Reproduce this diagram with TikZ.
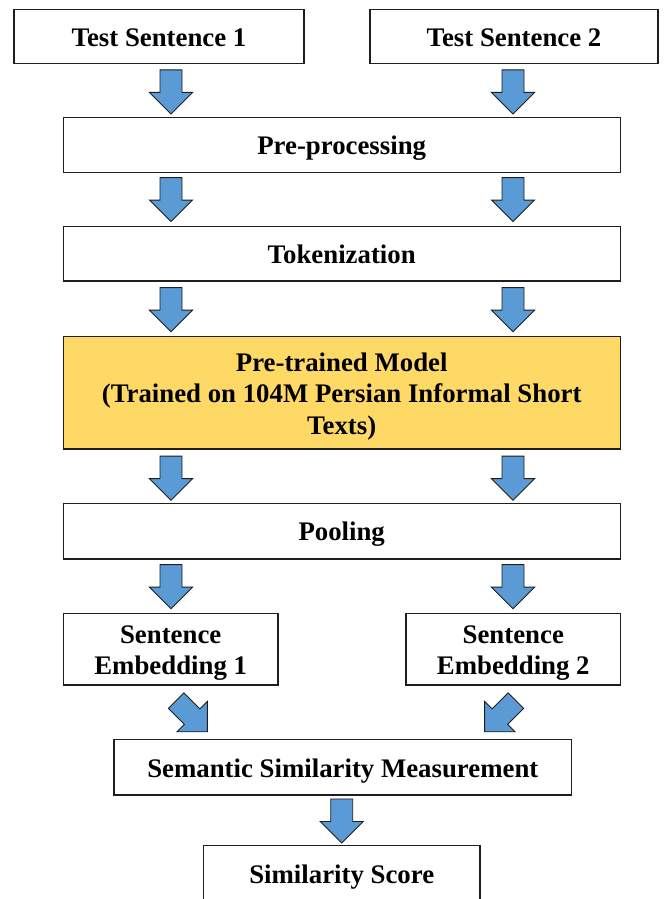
\documentclass[tikz,border=0pt]{standalone}
\usepackage{fontspec}
\setmainfont{Liberation Serif}
\usetikzlibrary{calc}
\definecolor{arrowblue}{RGB}{91,155,213}
\definecolor{gold}{RGB}{255,217,102}
\definecolor{edge}{RGB}{30,30,30}
\newcommand{\lnstrut}{\rule[-5.5pt]{0pt}{31pt}}
\begin{document}
\begin{tikzpicture}[x=1pt,y=-1pt,
  box/.style={draw=edge,line width=1.2pt,fill=white,inner sep=0pt,align=center,
    font=\fontsize{26.8}{31.5}\selectfont\bfseries},
  arrowstyle/.style={draw=edge,line width=0.9pt,fill=arrowblue,line join=miter},
  barrow/.pic={\draw[arrowstyle] (-11,0) -- (11,0) -- (11,22.5) -- (21.5,22.5) -- (0,44) -- (-21.5,22.5) -- (-11,22.5) -- cycle;}
]
\useasboundingbox (0,0) rectangle (664,899);
\clip (0,0) rectangle (664,899);
\fill[white] (0,0) rectangle (664,899);
\coordinate (colL) at (171,0);
\coordinate (colR) at (513,0);
\node[box,minimum width=290,minimum height=54] (ts1) at (159,36.3) {\lnstrut Test Sentence 1};
\node[box,minimum width=288,minimum height=54] (ts2) at (514,36.3) {\lnstrut Test Sentence 2};
\node[box,minimum width=557,minimum height=55] (pp) at (341.7,145) {\lnstrut Pre-processing};
\node[box,minimum width=557,minimum height=54.3] (tok) at (341.7,253.9) {\lnstrut Tokenization};
\node[box,fill=gold,minimum width=557,minimum height=112.3] (ptm) at (341.7,392.9) {\lnstrut Pre-trained Model\\\lnstrut (Trained on 104M Persian Informal Short\\\lnstrut Texts)};
\node[box,minimum width=557,minimum height=55.7] (pool) at (341.7,531.2) {\lnstrut Pooling};
\node[box,minimum width=214.7,minimum height=71.7] (se1) at (170.7,649.2) {\lnstrut Sentence\\\lnstrut Embedding 1};
\node[box,minimum width=214.7,minimum height=71.7] (se2) at (513.3,649.2) {\lnstrut Sentence\\\lnstrut Embedding 2};
\node[box,minimum width=457.7,minimum height=55.7] (ssm) at (342.8,767.2) {\lnstrut Semantic Similarity Measurement};
\node[box,minimum width=276.7,minimum height=56] (ss) at (341.7,873.7) {\lnstrut Similarity Score};
% block arrows
\pic at ($(colL |- ts1.south)+(0,6)$) {barrow};
\pic at ($(colR |- ts2.south)+(0,6)$) {barrow};
\pic at ($(colL |- pp.south)+(0,4.5)$) {barrow};
\pic at ($(colR |- pp.south)+(0,4.5)$) {barrow};
\pic at ($(colL |- tok.south)+(0,6)$) {barrow};
\pic at ($(colR |- tok.south)+(0,6)$) {barrow};
\pic at ($(colL |- ptm.south)+(0,6.5)$) {barrow};
\pic at ($(colR |- ptm.south)+(0,6.5)$) {barrow};
\pic at ($(colL |- pool.south)+(0,5)$) {barrow};
\pic at ($(colR |- pool.south)+(0,5)$) {barrow};
\pic[rotate=45] at ($(se1.south)+(5.5,15)$) {barrow};
\pic[rotate=-45] at ($(se2.south)+(2.5,15)$) {barrow};
\pic at ($(ssm.south -| ss.north)+(0,3.3)$) {barrow};
\end{tikzpicture}
\end{document}
